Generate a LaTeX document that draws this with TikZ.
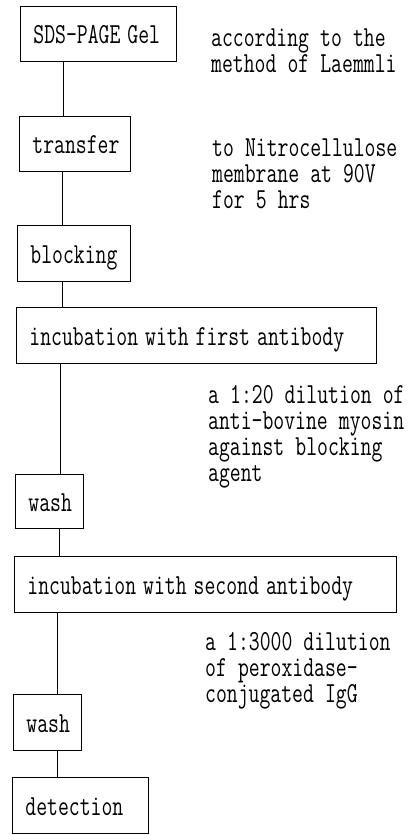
\documentclass[tikz,border=0pt]{standalone}
\usepackage{graphicx}
\newcommand\tfont{\fontsize{22}{19.7}\selectfont\ttfamily\spaceskip=0.525em\relax}
\newcommand\sq[1]{\scalebox{0.96}[1.32]{#1}}
\newcommand\para[1]{\scalebox{0.96}[1.32]{\begin{tabular}[t]{@{}l@{}}#1\end{tabular}}}
\tikzset{
  stepbox/.style={draw, line width=0.8pt, anchor=north west, inner xsep=13pt, inner ysep=0pt,
    align=left, text height=21pt, text depth=1pt, font=\tfont},
  link/.style={line width=0.7pt},
  note/.style={anchor=base west, inner sep=0pt, font=\tfont}
}
\begin{document}
\begin{tikzpicture}[x=1pt,y=-1pt]
\useasboundingbox (0,0) rectangle (417,835);
% process boxes
\node[stepbox, text width=130pt, minimum height=55pt] (b1) at (20,6)   {\sq{SDS-PAGE Gel}};
\node[stepbox, text width=85pt,  minimum height=55pt] (b2) at (19,116) {\sq{transfer}};
\node[stepbox, text width=87pt,  minimum height=56pt] (b3) at (17,225) {\sq{blocking}};
\node[stepbox, text width=334pt, minimum height=56pt] (b4) at (16,307) {\sq{incubation with first antibody}};
\node[stepbox, text width=42pt,  minimum height=54pt] (b5) at (15,474) {\sq{wash}};
\node[stepbox, text width=356pt, minimum height=56pt] (b6) at (14,556) {\sq{incubation with second antibody}};
\node[stepbox, text width=42pt,  minimum height=56pt] (b7) at (13,694) {\sq{wash}};
\node[stepbox, text width=110pt, minimum height=56pt] (b8) at (12,777) {\sq{detection}};
% connector positions
\coordinate (x1) at (63,0);
\coordinate (x2) at (62,0);
\coordinate (x3) at (62,0);
\coordinate (x4) at (60,0);
\coordinate (x5) at (59,0);
\coordinate (x6) at (57,0);
\coordinate (x7) at (57,0);
\draw[link] (b1.south -| x1) -- (b2.north -| x1);
\draw[link] (b2.south -| x2) -- (b3.north -| x2);
\draw[link] (b3.south -| x3) -- (b4.north -| x3);
\draw[link] (b4.south -| x4) -- (b5.north -| x4);
\draw[link] (b5.south -| x5) -- (b6.north -| x5);
\draw[link] (b6.south -| x6) -- (b7.north -| x6);
\draw[link] (b7.south -| x7) -- (b8.north -| x7);
% notes
\node[note] (n1) at (211,46)  {\para{according to the\\method of Laemmli}};
\node[note] (n2) at (212,156) {\para{to Nitrocellulose\\membrane at 90V\\for 5 hrs}};
\node[note] (n3) at (208,403) {\para{a 1:20 dilution of\\anti-bovine myosin\\against blocking\\agent}};
\node[note] (n4) at (205,650) {\para{a 1:3000 dilution\\of peroxidase-\\conjugated IgG}};
\end{tikzpicture}
\end{document}
